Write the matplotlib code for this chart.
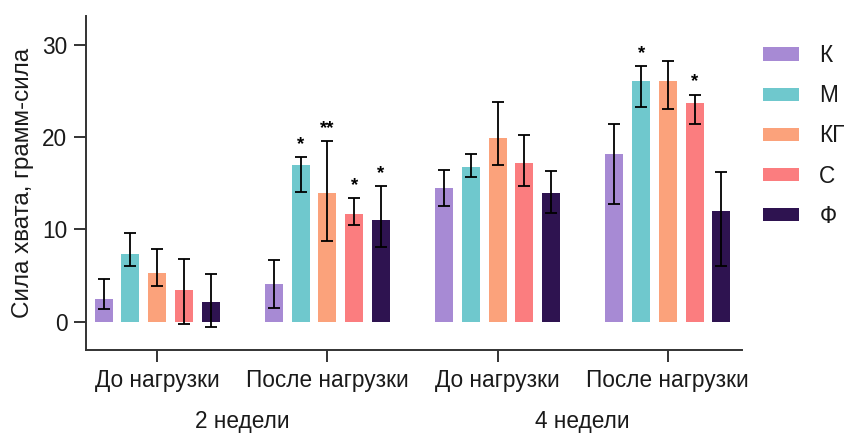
import numpy as np
import matplotlib.pyplot as plt

plt.rcParams['font.family'] = ['Liberation Sans', 'DejaVu Sans']

groups = ["До нагрузки", "После нагрузки", "До нагрузки", "После нагрузки"]
periods = ["2 недели", "4 недели"]
series = ["К", "М", "КГ", "С", "Ф"]
colors = ["#a78ad4", "#6fc8cd", "#fba27b", "#fb7d7f", "#2e1350"]

# mean values per series, one entry per group
means = {
    "К":  [2.45, 4.1, 14.5, 18.2],
    "М":  [7.3, 17.0, 16.8, 26.1],
    "КГ": [5.3, 14.0, 19.9, 26.1],
    "С":  [3.5, 11.7, 17.2, 23.7],
    "Ф":  [2.15, 11.05, 14.0, 11.95],
}
# error bar ends (upper, lower)
err_hi = {
    "К":  [4.6, 6.7, 16.4, 21.4],
    "М":  [9.6, 17.8, 18.2, 27.7],
    "КГ": [7.85, 19.6, 23.75, 28.2],
    "С":  [6.8, 13.4, 20.2, 24.6],
    "Ф":  [5.2, 14.7, 16.3, 16.2],
}
err_lo = {
    "К":  [1.35, 1.45, 12.5, 12.8],
    "М":  [6.0, 14.1, 15.7, 23.3],
    "КГ": [3.9, 8.7, 17.0, 23.0],
    "С":  [-0.2, 10.5, 14.7, 21.4],
    "Ф":  [-0.55, 8.15, 11.8, 6.0],
}
# significance marks: (series, group, text)
marks = [("М", 1, "*"), ("КГ", 1, "**"), ("С", 1, "*"), ("Ф", 1, "*"),
         ("М", 3, "*"), ("С", 3, "*")]

fig = plt.figure(figsize=(8.45, 4.33), dpi=100)
ax = fig.add_axes([0.102, 0.192, 0.776, 0.771])

x = np.arange(len(groups))
step = 0.157
width = 0.106
axis_col = "#333333"
txt_col = "#1a1a1a"
fs = 16.3

for i, s in enumerate(series):
    pos = x + (i - 2) * step
    m = np.array(means[s])
    lo = m - np.array(err_lo[s])
    hi = np.array(err_hi[s]) - m
    ax.bar(pos, m, width, color=colors[i], label=s, zorder=2)
    ax.errorbar(pos, m, yerr=[lo, hi], fmt="none", ecolor="black",
                elinewidth=1.3, capsize=4, capthick=1.3, zorder=3)

for s, g, t in marks:
    i = series.index(s)
    ax.annotate(t, (x[g] + (i - 2) * step, err_hi[s][g]), xytext=(0, 3),
                textcoords="offset points", ha="center", va="bottom",
                fontsize=13.5, fontweight="bold")

ax.set_xlim(-0.417, 3.435)
ax.set_ylim(-3.03, 33.1)
ax.set_yticks([0, 10, 20, 30])
ax.set_xticks(x)
ax.set_xticklabels(groups)
ax.set_ylabel("Сила хвата, грамм-сила", fontsize=17.5, color=txt_col, labelpad=6)

for sp in ["top", "right"]:
    ax.spines[sp].set_visible(False)
for sp in ["left", "bottom"]:
    ax.spines[sp].set_linewidth(1.4)
    ax.spines[sp].set_color(axis_col)
ax.tick_params(axis="both", direction="out", length=8.5, width=1.4,
               color=axis_col, labelsize=fs, labelcolor=txt_col, pad=5)

for k, p in enumerate(periods):
    ax.text((x[2 * k] + x[2 * k + 1]) / 2, -0.215, p, transform=ax.get_xaxis_transform(),
            ha="center", va="center", fontsize=fs, color=txt_col)

ax.legend(loc="upper left", bbox_to_anchor=(763 / 845, 1 - 44 / 433),
          bbox_transform=fig.transFigure, frameon=False, borderpad=0,
          borderaxespad=0, fontsize=fs, handlelength=1.57, handleheight=0.52,
          labelspacing=0.76, handletextpad=0.92, labelcolor=txt_col)

fig.savefig("out.png", dpi=100)
